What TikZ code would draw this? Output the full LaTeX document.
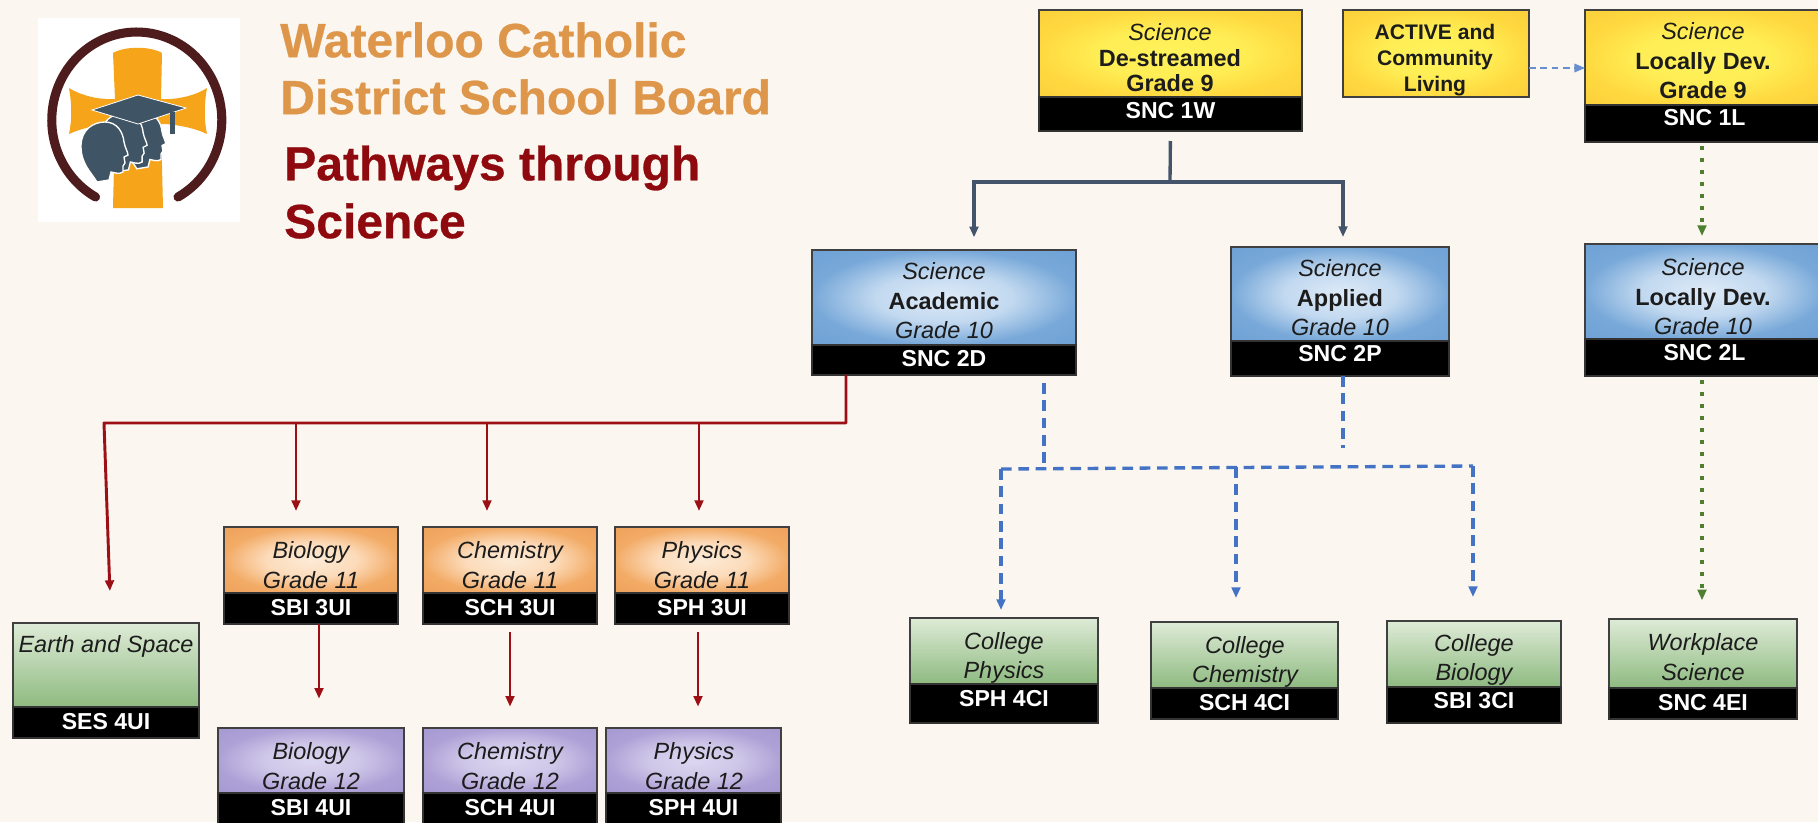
\documentclass[tikz,border=0pt]{standalone}
\usepackage{fontspec}
\setmainfont{Liberation Sans}
\usetikzlibrary{arrows.meta}
\definecolor{bg}{HTML}{FBF7F0}
\definecolor{slatec}{HTML}{44546A}
\definecolor{redc}{HTML}{9C0F14}
\definecolor{bluec}{HTML}{4472C4}
\definecolor{greenc}{HTML}{4F7F30}
\definecolor{titleor}{HTML}{DE964B}
\definecolor{titlered}{HTML}{8E0A0E}
\definecolor{crossc}{HTML}{F6A51B}
\definecolor{ringc}{HTML}{4E1C1C}
\definecolor{headc}{HTML}{3F5565}
\definecolor{inkc}{HTML}{1C1C1C}
\pgfdeclareradialshading{softyel}{\pgfpoint{0bp}{0bp}}{rgb(0bp)=(1,.95,.36);rgb(14bp)=(1,.93,.33);rgb(25bp)=(1,.85,.25);rgb(40bp)=(.98,.80,.22)}
\pgfdeclareradialshading{softblu}{\pgfpoint{0bp}{0bp}}{rgb(0bp)=(.87,.92,.97);rgb(13bp)=(.76,.85,.94);rgb(25bp)=(.47,.66,.85);rgb(40bp)=(.42,.62,.83)}
\pgfdeclareradialshading{softora}{\pgfpoint{0bp}{0bp}}{rgb(0bp)=(.99,.92,.84);rgb(13bp)=(.99,.86,.73);rgb(25bp)=(.95,.67,.40);rgb(40bp)=(.93,.62,.34)}
\pgfdeclareradialshading{softpur}{\pgfpoint{0bp}{0bp}}{rgb(0bp)=(.86,.84,.94);rgb(13bp)=(.81,.78,.91);rgb(25bp)=(.68,.63,.84);rgb(40bp)=(.64,.59,.82)}
\tikzset{
  box/.style={draw=black!75,line width=1.1pt,inner sep=0pt,outer sep=0pt,anchor=north west},
  yel/.style={box,shade,shading=softyel},
  blu/.style={box,shade,shading=softblu},
  ora/.style={box,shade,shading=softora},
  pur/.style={box,shade,shading=softpur},
  grn/.style={box,shade,top color={rgb,255:red,222;green,235;blue,215},bottom color={rgb,255:red,142;green,186;blue,128}},
  blk/.style={box,fill=black,draw=black!80,anchor=north west},
  code/.style={text=white,font=\fontsize{17.3}{19}\selectfont\bfseries,inner sep=0pt},
  lbl/.style={align=center,inner sep=0pt,text=inkc,font=\fontsize{17.6}{22.2}\selectfont\itshape},
  title/.style={anchor=west,inner sep=0pt,font=\fontsize{36}{40}\selectfont\bfseries\addfontfeature{FakeBold=0.6}},
  tip/.style={-{Triangle[length=8pt,width=6.5pt]}},
  slateln/.style={draw=slatec,line width=2.5pt},
  redln/.style={draw=redc,line width=2.2pt},
  blueln/.style={draw=bluec,line width=2.5pt,dash pattern=on 8pt off 5pt},
  greenln/.style={draw=greenc,line width=2.7pt,dash pattern=on 2.7pt off 6.3pt},
  thinblue/.style={draw=bluec!80!white,line width=1.1pt,dash pattern=on 5pt off 3.5pt},
}
% name, style, x1, x2, y1, y2, y3, code, code y
\newcommand{\course}[9]{%
  \pgfmathsetmacro{\bw}{(#4-#3)*0.75}%
  \pgfmathsetmacro{\bh}{(#6-#5)*0.75}%
  \pgfmathsetmacro{\bk}{(#7-#6)*0.75}%
  \pgfmathsetmacro{\bc}{(#3+#4)/2}%
  \node[#2,minimum width=\bw pt,minimum height=\bh pt] (#1) at (#3,#5) {};
  \node[blk,minimum width=\bw pt,minimum height=\bk pt] (#1b) at (#3,#6) {};
  \node[code] (#1c) at (\bc,#9) {#8};
}
\begin{document}
\begin{tikzpicture}[x=0.75pt,y=-0.75pt]
\clip (0,0) rectangle (1818,822);
\fill[bg] (0,0) rectangle (1818,822);
% logo
\fill[white] (38,18) rectangle (240,222);
\fill[crossc] (113,53) .. controls (125,46) and (150,46) .. (162,53) -- (161,99)
  .. controls (175,100) and (195,96) .. (207,88) .. controls (204,105) and (204,120) .. (207,134)
  .. controls (195,128) and (175,124) .. (161,124) -- (163,208) -- (113,208) -- (115,124)
  .. controls (100,124) and (82,128) .. (69,134) .. controls (72,120) and (72,105) .. (69,88)
  .. controls (82,96) and (100,100) .. (115,99) -- cycle;
\draw[ringc,line width=6.8pt,line cap=round] (178,197) arc[start angle=61,end angle=-241,x radius=85,y radius=88];
\foreach \hx/\hy/\hs in {122/113/0.93,101/113/0.98,81/122/1}{
  \begin{scope}[shift={(\hx,\hy)},x=\hs*0.75pt,y=-\hs*0.75pt]
  \filldraw[fill=headc,draw=white,line width=1pt] (16,60) .. controls (10,50) and (0,42) .. (0,24)
    .. controls (0,8) and (12,0) .. (24,0) .. controls (36,0) and (42,10) .. (43,20)
    .. controls (44,26) and (47,30) .. (47,33) -- (43,35) -- (44,41) -- (42,44) -- (42,50)
    .. controls (38,53) and (32,50) .. (30,50) -- (28,58) -- cycle;
  \end{scope}
}
\filldraw[fill=headc,draw=white,line width=.6pt] (92,110) -- (138,95) -- (186,108) -- (138,124) -- cycle;
\fill[headc] (170,112) rectangle (175,134);
% titles
\node[title,text=titleor] (t1) at (280,40) {Waterloo Catholic};
\node[title,text=titleor] (t2) at (280,97) {District School Board};
\node[title,text=titlered] (t3) at (284,168) {Pathways through};
\node[title,text=titlered] (t4) at (284,221) {Science};
% boxes
\course{snca}{yel}{1039}{1302}{10}{97}{131}{SNC 1W}{111}
\node[box,yel,minimum width=139.5pt,minimum height=65.25pt] (act) at (1343,10) {};
\course{sncb}{yel}{1585}{1824}{10}{105}{142}{SNC 1L}{118}
\course{acad}{blu}{812}{1076}{250}{345}{375}{SNC 2D}{359}
\course{appl}{blu}{1231}{1449}{247}{341}{376}{SNC 2P}{354}
\course{ldev}{blu}{1585}{1824}{244}{339}{376}{SNC 2L}{353}
\course{bioe}{ora}{224}{398}{527}{593}{624}{SBI 3UI}{608}
\course{chee}{ora}{423}{597}{527}{593}{624}{SCH 3UI}{608}
\course{phye}{ora}{615}{789}{527}{593}{624}{SPH 3UI}{608}
\course{bion}{pur}{218}{404}{728}{793}{826}{SBI 4UI}{808}
\course{chen}{pur}{423}{597}{728}{793}{826}{SCH 4UI}{808}
\course{phyn}{pur}{606}{781}{728}{793}{826}{SPH 4UI}{808}
\course{ses}{grn}{13}{199}{623}{707}{738}{SES 4UI}{722}
\course{cphy}{grn}{910}{1098}{618}{684}{723}{SPH 4CI}{699}
\course{cche}{grn}{1151}{1338}{622}{688}{719}{SCH 4CI}{703}
\course{cbio}{grn}{1387}{1561}{621}{687}{723}{SBI 3CI}{701}
\course{work}{grn}{1609}{1797}{619}{688}{719}{SNC 4EI}{703}
% labels
\node[lbl] (snca-l) at (1170,58) {Science\\[-3pt]\textbf{\upshape De-streamed}\\[-3pt]\textbf{\upshape Grade 9}};
\node[lbl,font=\fontsize{15.8}{19.5}\selectfont\bfseries] (act-l) at (1435,60) {ACTIVE and\\Community\\Living};
\node[lbl] (sncb-l) at (1703,61) {Science\\\textbf{\upshape Locally Dev.}\\\textbf{\upshape Grade 9}};
\node[lbl] (acad-l) at (944,301) {Science\\\textbf{\upshape Academic}\\Grade 10};
\node[lbl] (appl-l) at (1340,298) {Science\\\textbf{\upshape Applied}\\Grade 10};
\node[lbl] (ldev-l) at (1703,297) {Science\\\textbf{\upshape Locally Dev.}\\Grade 10};
\node[lbl] (bioe-l) at (311,565) {Biology\\Grade 11};
\node[lbl] (chee-l) at (510,565) {Chemistry\\Grade 11};
\node[lbl] (phye-l) at (702,565) {Physics\\Grade 11};
\node[lbl] (bion-l) at (311,766) {Biology\\Grade 12};
\node[lbl] (chen-l) at (510,766) {Chemistry\\Grade 12};
\node[lbl] (phyn-l) at (694,766) {Physics\\Grade 12};
\node[lbl] (ses-l) at (106,646) {Earth and Space};
\node[lbl] (cphy-l) at (1004,658) {College\\Physics};
\node[lbl] (cche-l) at (1245,662) {College\\Chemistry};
\node[lbl] (cbio-l) at (1474,660) {College\\Biology};
\node[lbl] (work-l) at (1703,657) {Workplace\\Science};
% slate connectors
\coordinate (ja) at (974,182);
\coordinate (jb) at (1170,182);
\coordinate (jc) at (1343,182);
\draw[slateln,shorten <=7.5pt] (sncab.south) -- (jb);
\draw[slateln,line cap=rect] (ja) -- (jc);
\draw[slateln,tip,shorten >=9.5pt] (ja) -- (acad.north -| ja);
\draw[slateln,tip,shorten >=7.5pt] (jc) -- (appl.north -| jc);
% active
\coordinate (aa) at (1529,68);
\draw[thinblue,tip] (act.east |- aa) -- (sncb.west |- aa);
% red
\coordinate (ra) at (846,423);
\coordinate (rb) at (104,423);
\coordinate (rc) at (111,600);
\coordinate (r1) at (296,423);
\coordinate (r2) at (487,423);
\coordinate (r3) at (699,423);
\draw[redln,tip,shorten >=24pt,line join=round] (acadb.south -| ra) -- (ra) -- (rb) -- (ses.north -| rc);
\draw[redln,tip,shorten >=12pt] (r1) -- (bioe.north -| r1);
\draw[redln,tip,shorten >=12pt] (r2) -- (chee.north -| r2);
\draw[redln,tip,shorten >=12pt] (r3) -- (phye.north -| r3);
\coordinate (s1) at (319,630);
\coordinate (s2) at (510,632);
\coordinate (s3) at (698,632);
\draw[redln,tip,shorten >=22pt] (bioeb.south -| s1) -- (bion.north -| s1);
\draw[redln,tip,shorten >=16pt,shorten <=6pt] (cheeb.south -| s2) -- (chen.north -| s2);
\draw[redln,tip,shorten >=16pt,shorten <=6pt] (phyeb.south -| s3) -- (phyn.north -| s3);
% blue
\coordinate (ba) at (1044,467);
\coordinate (bb) at (1001,469);
\coordinate (bc) at (1236,467);
\coordinate (bd) at (1473,466);
\coordinate (be) at (1343,467);
\draw[blueln,shorten <=6pt] (acadb.south -| ba) -- (ba);
\draw[blueln,shorten >=14pt] (applb.south -| be) -- (be);
\draw[blueln] (bb) -- (bd);
\draw[blueln,tip,shorten >=6pt] (bb) -- (cphy.north -| bb);
\draw[blueln,tip,shorten >=18pt] (bc) -- (cche.north -| bc);
\draw[blueln,tip,shorten >=18pt] (bd) -- (cbio.north -| bd);
% green
\coordinate (ga) at (1702,240);
\draw[greenln,tip,shorten <=3pt,shorten >=6pt] (sncbb.south -| ga) -- (ldev.north -| ga);
\draw[greenln,tip,shorten <=3pt,shorten >=14pt] (ldevb.south -| ga) -- (work.north -| ga);
\end{tikzpicture}
\end{document}
